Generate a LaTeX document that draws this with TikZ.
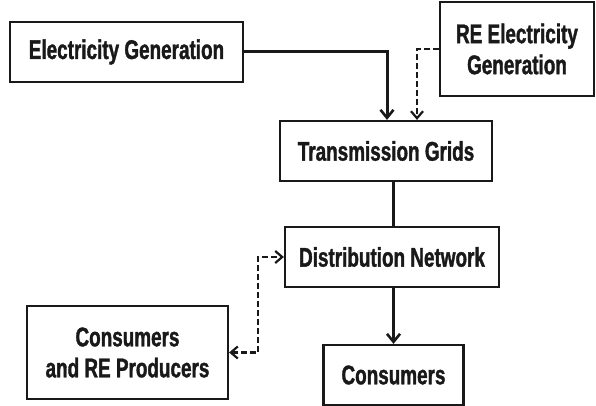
\documentclass[tikz,border=0pt]{standalone}
\usepackage{fontspec}
\setmainfont[FakeStretch=0.7,BoldFeatures={FakeBold=1.3}]{Liberation Sans}
\usetikzlibrary{arrows.meta}
\begin{document}
\begin{tikzpicture}[x=1pt,y=-1pt,
  box/.style={draw=black!90, line width=2.2pt, fill=white, minimum width=#1, inner sep=0pt,
    font=\fontsize{27}{31}\selectfont\bfseries, align=center, text=black!90},
  solidarr/.style={line width=3pt, draw=black!90, -{Straight Barb[length=8pt,width=13pt,line width=2.6pt]}},
  solidline/.style={line width=3pt, draw=black!90},
  dasharr/.style={line width=2.2pt, draw=black!90, dash pattern=on 6pt off 3pt, -{Straight Barb[length=7pt,width=12pt,line width=2.2pt]}},
  dashboth/.style={line width=2.2pt, draw=black!90, dash pattern=on 6pt off 3pt, {Straight Barb[length=7pt,width=12pt,line width=2.2pt]}-{Straight Barb[length=7pt,width=12pt,line width=2.2pt]}}
]
\useasboundingbox (0,0) rectangle (596,406);
\node[box=233pt, minimum height=60pt] (EG) at (126.5,52) {Electricity Generation};
\node[box=154pt, minimum height=94pt] (RE) at (517,49) {RE Electricity\\Generation};
\node[box=212pt, minimum height=60pt] (TG) at (386,151) {Transmission Grids};
\node[box=214pt, minimum height=60pt] (DN) at (392,257) {Distribution Network};
\node[box=140pt, minimum height=60pt] (CO) at (393.5,375) {Consumers};
\node[box=201pt, minimum height=93pt] (CRP) at (127.5,352.5) {Consumers\\and RE Producers};
\draw[solidarr] (EG.east) -| ([xshift=1pt]TG.north);
\draw[dasharr] (RE.west) -| ([xshift=31pt]TG.north);
\draw[solidline] (TG.south -| CO.north) -- (DN.north -| CO.north);
\draw[solidarr] (DN.south -| CO.north) -- (CO.north);
\draw[dashboth] (CRP.east) -- ++(29,0) |- (DN.west);
\end{tikzpicture}
\end{document}
